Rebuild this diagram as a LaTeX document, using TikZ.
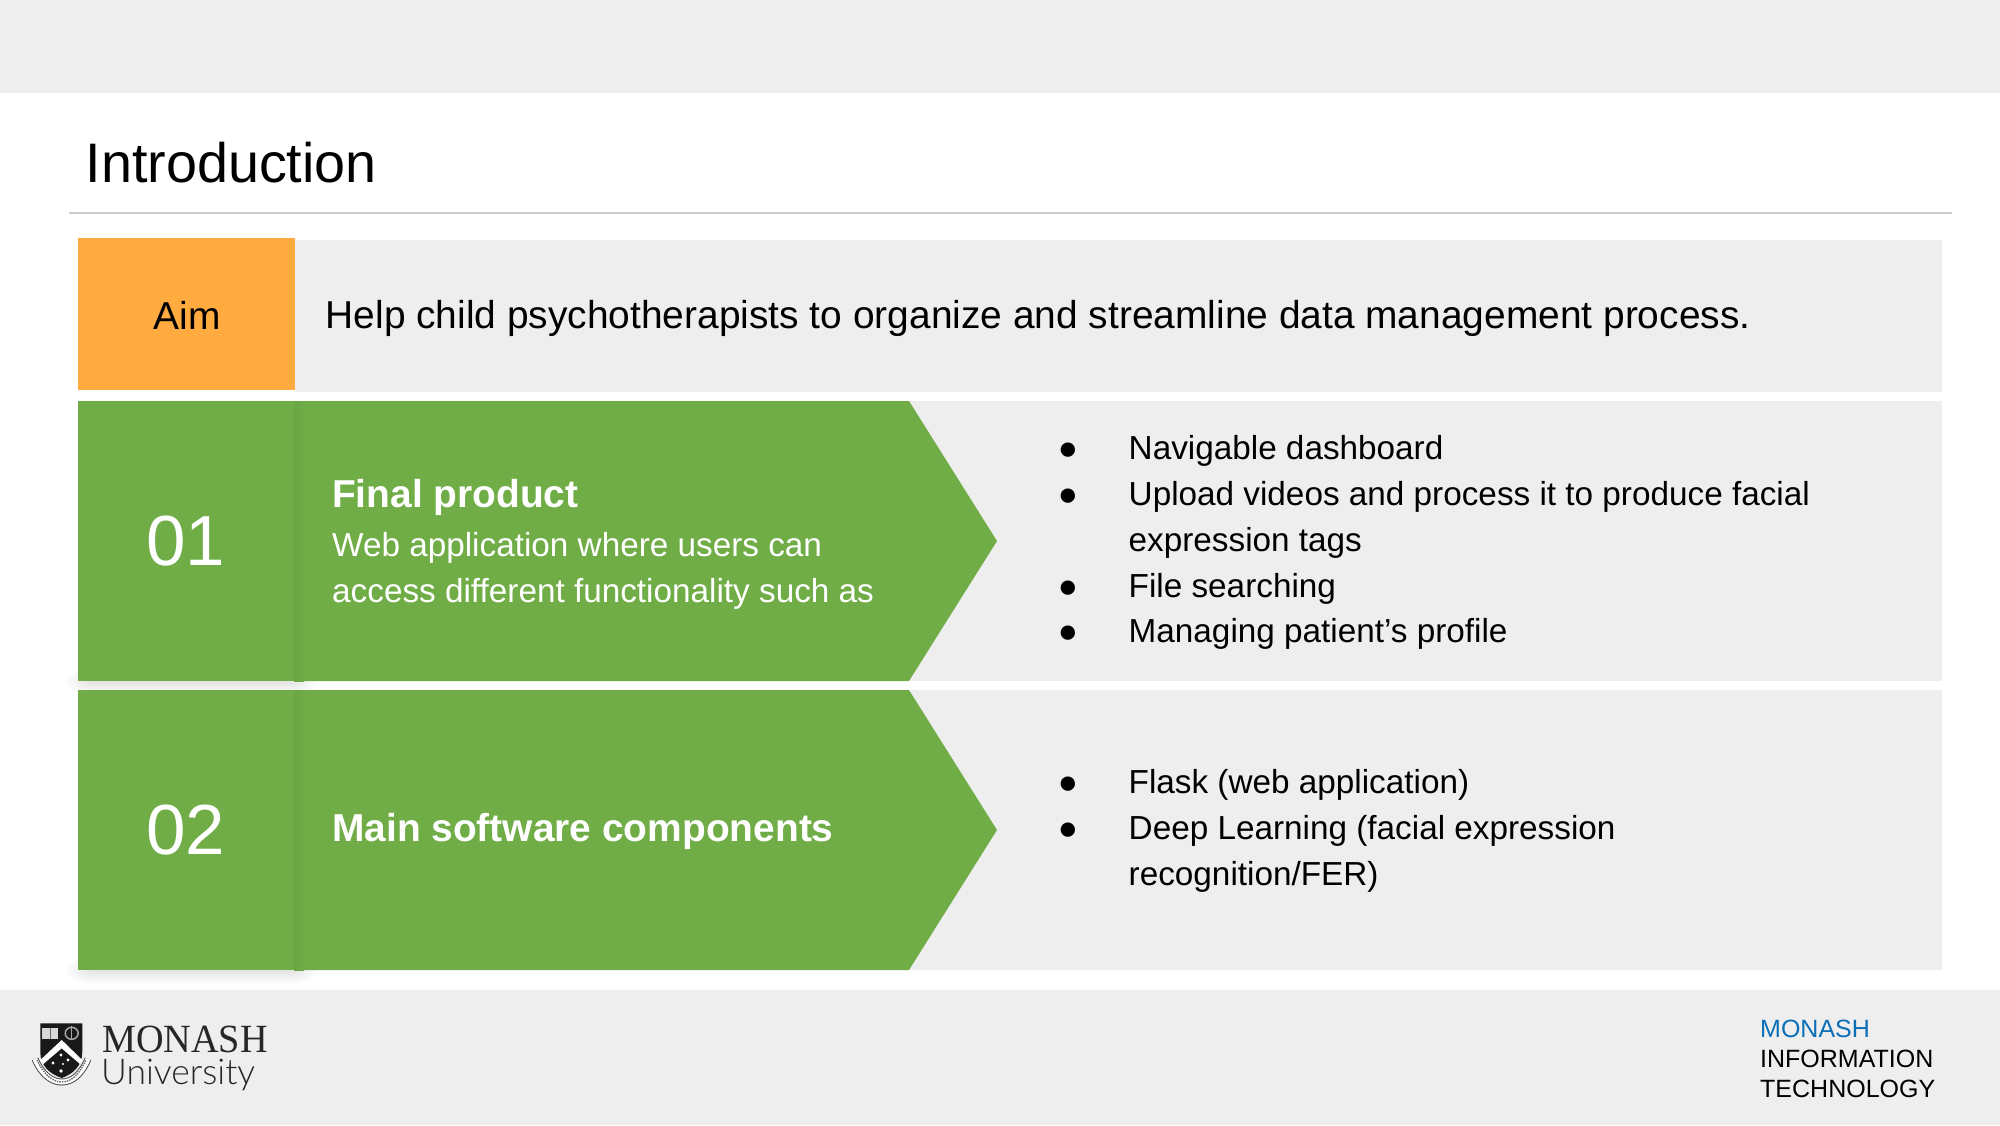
\documentclass[tikz,border=0pt]{standalone}
\usepackage{fontspec}
\setmainfont{Liberation Sans}
\newfontfamily\logoserif[FakeStretch=0.955]{Liberation Serif}
\newfontfamily\logosans{Lato Light}
\definecolor{bandgrey}{HTML}{EEEEEE}
\definecolor{rulegrey}{HTML}{CCCCCC}
\definecolor{aimorange}{HTML}{FFAB40}
\definecolor{rowgreen}{HTML}{70AD47}
\definecolor{monashblue}{HTML}{0B6FB8}
\tikzset{
  panel/.style={fill=bandgrey},
  bodytext/.style={anchor=base west,text=black,font=\fontsize{33.3}{40}\selectfont},
  bullettext/.style={anchor=base,text=black,font=\fontsize{33.3}{40}\selectfont},
  aimtextstyle/.style={text=black,font=\fontsize{38.9}{46}\selectfont},
  headtext/.style={anchor=base west,text=white,font=\fontsize{38.9}{46}\selectfont\bfseries},
  whitetext/.style={anchor=base west,text=white,font=\fontsize{33.3}{40}\selectfont},
  numtext/.style={text=white,font=\fontsize{71}{84}\selectfont},
  foottext/.style={anchor=base west,text=black,font=\fontsize{25}{30}\selectfont},
  softdrop/.style={top color=black!11,bottom color=white},
  softcorner/.style={inner color=black!11,outer color=white},
  softedge/.style={left color=rowgreen!95!black,right color=rowgreen},
}
\begin{document}
\begin{tikzpicture}[x=1pt,y=-1pt,inner sep=0pt]
      \useasboundingbox (0,0) rectangle (2000,1125);

      % bands
      \fill[panel] (0,0) rectangle (2000,93);
      \fill[panel] (0,990) rectangle (2000,1125);
      \draw[rulegrey,line width=2pt] (69,213) -- (1952,213);
      \node[anchor=base west,font=\fontsize{55.7}{66}\selectfont] (title) at (85.5,182) {Introduction};

      % soft shadows go under the rows
      \shade[softcorner] (64,667) rectangle (120,695);
      \shade[softcorner] (262,667) rectangle (318,695);
      \shade[softdrop] (92,681) rectangle (290,695);
      \shade[softcorner] (64,956) rectangle (120,984);
      \shade[softcorner] (262,956) rectangle (318,984);
      \shade[softdrop] (92,970) rectangle (290,984);

      % aim row
      \fill[panel] (295,240) rectangle (1942,392);
      \fill[aimorange] (78,238) rectangle (295,390);
      \node[aimtextstyle] (aim) at (187,315) {Aim};
      \node[aimtextstyle,anchor=base west] (aimtext) at (325.5,328) {Help child psychotherapists to organize and streamline data management process.};

      % row 01
      \fill[panel] (295,401) rectangle (1942,681);
      \fill[rowgreen] (78,401) rectangle (294,681);
      \fill[rowgreen] (294,401) -- (909,401) -- (997,541) -- (909,681) -- (294,681) -- cycle;
      \shade[softedge] (294,401) rectangle (304,681);
      \node[numtext] (numone) at (186,541) {01};
      \node[headtext] (finalhead) at (332,507) {Final product};
      \node[whitetext] (finalone) at (332,556) {Web application where users can};
      \node[whitetext] (finaltwo) at (332,602) {access different functionality such as};
      \node[bullettext] (dotone) at (1068,459) {●};
      \node[bodytext] (itemone) at (1128.5,459) {Navigable dashboard};
      \node[bullettext] (dottwo) at (1068,505) {●};
      \node[bodytext] (itemtwo) at (1128.5,505) {Upload videos and process it to produce facial};
      \node[bodytext] (itemtwob) at (1128.5,551) {expression tags};
      \node[bullettext] (dotthree) at (1068,597) {●};
      \node[bodytext] (itemthree) at (1128.5,597) {File searching};
      \node[bullettext] (dotfour) at (1068,642.2) {●};
      \node[bodytext] (itemfour) at (1128.5,642.2) {Managing patient’s profile};

      % row 02
      \fill[panel] (295,690) rectangle (1942,970);
      \fill[rowgreen] (78,690) rectangle (294,970);
      \fill[rowgreen] (294,690) -- (909,690) -- (997,830) -- (909,970) -- (294,970) -- cycle;
      \shade[softedge] (294,690) rectangle (304,970);
      \node[numtext] (numtwo) at (186,830) {02};
      \node[headtext] (softhead) at (332,841) {Main software components};
      \node[bullettext] (dotfive) at (1068,793) {●};
      \node[bodytext] (itemfive) at (1128.5,793) {Flask (web application)};
      \node[bullettext] (dotsix) at (1068,839) {●};
      \node[bodytext] (itemsix) at (1128.5,839) {Deep Learning (facial expression};
      \node[bodytext] (itemsixb) at (1128.5,885) {recognition/FER)};

      % logo: scroll, then shield
      \draw[black!70,line width=7pt] (35,1059) .. controls (42,1075) and (52,1082) .. (61.7,1082)
        .. controls (72,1082) and (81,1075) .. (88,1059);
      \draw[white,line width=5pt] (35,1059) .. controls (42,1075) and (52,1082) .. (61.7,1082)
        .. controls (72,1082) and (81,1075) .. (88,1059);
      \draw[black!55,line width=1.5pt,densely dotted] (37,1060) .. controls (44,1075) and (53,1082) .. (61.7,1082)
        .. controls (71,1082) and (79,1075) .. (86,1060);
      \fill[black!90] (40.3,1023.3) -- (82.3,1023.3) -- (82.3,1052) .. controls (82.3,1066) and (73,1074) .. (61.7,1078)
        .. controls (50,1074) and (40.3,1066) .. (40.3,1052) -- cycle;
      \fill[white] (40.3,1060) -- (61.7,1040) -- (82.3,1060) -- (80,1064) -- (61.7,1048.3) -- (43.3,1064) -- cycle;
      \fill[black!15] (42.3,1027.7) rectangle (58.3,1039);
      \draw[black!60,line width=.6pt] (50.3,1027.7) -- (50.3,1039);
      \draw[black!35,line width=1.5pt] (71.7,1033.3) ellipse (6.5 and 6);
      \draw[black!35,line width=1pt] (71.7,1026) -- (71.7,1040);
      \fill[white] (61,1055) circle (1.7) (53,1063) circle (1.7) (68,1060) circle (1.7) (63,1064) circle (1.1) (61,1071) circle (1.9);
      \node[anchor=base west,text=black!85,font=\logoserif\fontsize{40}{44}\selectfont] (logotop) at (102,1052) {MONASH};
      \node[anchor=base west,text=black!85,font=\logosans\fontsize{35.5}{40}\selectfont] (logobottom) at (101,1084) {University};

      % faculty name
      \node[foottext,text=monashblue] (facone) at (1760,1037) {MONASH};
      \node[foottext] (factwo) at (1760,1067) {INFORMATION};
      \node[foottext] (facthree) at (1760,1097) {TECHNOLOGY};
    \end{tikzpicture}
\end{document}
